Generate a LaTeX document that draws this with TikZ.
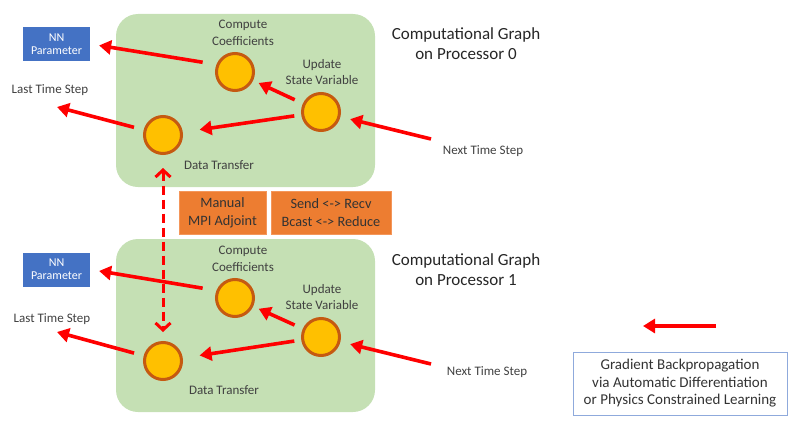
\documentclass[tikz,border=0pt]{standalone}
\usepackage{fontspec}
\setmainfont{Carlito}
\usetikzlibrary{positioning,arrows.meta}
\definecolor{panelfill}{RGB}{197,224,180}
\definecolor{statefill}{RGB}{255,192,0}
\definecolor{stateline}{RGB}{197,90,17}
\definecolor{nnfill}{RGB}{68,114,196}
\definecolor{opfill}{RGB}{237,125,49}
\definecolor{opline}{RGB}{244,150,90}
\definecolor{legline}{RGB}{143,170,220}
\definecolor{labtext}{RGB}{64,64,64}
\definecolor{arred}{RGB}{255,0,0}

\begin{document}
\begin{tikzpicture}[x=1pt,y=-1pt,
   panel/.style={fill=panelfill,rounded corners=22pt,minimum width=259pt,minimum height=173pt},
   stt/.style={circle,fill=statefill,draw=stateline,line width=3pt,minimum size=37pt,inner sep=0pt},
   lab/.style={font=\fontsize{13}{16.5}\selectfont,text=labtext,align=center},
   nnbox/.style={fill=nnfill,text=white,font=\fontsize{12}{13}\selectfont,align=center,
                 minimum width=67pt,minimum height=34pt,inner sep=0pt},
   opbox/.style={fill=opfill,draw=opline,line width=0.6pt,text=black!80,
                 font=\fontsize{14.3}{18}\selectfont,align=center,minimum height=43pt,inner sep=2pt},
   ttl/.style={font=\fontsize{17}{20}\selectfont,text=black!85,align=center},
   ar/.style={draw=arred,line width=3.6pt,-{Triangle[length=12pt,width=14pt]}},
   dar/.style={draw=arred,line width=3pt,dash pattern=on 9pt off 5pt,
               {Straight Barb[length=7pt,width=15pt]}-{Straight Barb[length=7pt,width=15pt]}}]
\useasboundingbox (0,0) rectangle (799,436);

% processor 0
\node[panel] (g0) at (245.5,100.5) {};
\node[stt] (cc0) at (235,72) {};
\node[stt] (up0) at (321,112) {};
\node[stt] (dt0) at (163,135) {};
\node[lab] at (243,33) {Compute\\Coefficients};
\node[lab] at (322,72) {Update\\State Variable};
\node[lab] at (219,165) {Data Transfer};
\node[nnbox] (nn0) at (56.5,44) {NN\\Parameter};
\node[lab] (last0) at (50,90) {Last Time Step};
\node[lab] (next0) at (483,151) {Next Time Step};
\node[ttl] (t0) at (466,44) {Computational Graph\\on Processor 0};
\coordinate (lt0) at (57,107);
\coordinate (ns0) at (431,139);

\draw[ar,shorten <=14pt,shorten >=9pt] (cc0.158) -- (nn0.east);
\draw[ar,shorten <=9pt,shorten >=6pt] (up0) -- (cc0);
\draw[ar,shorten <=7pt,shorten >=17pt] (up0) -- (dt0);
\draw[ar,shorten <=10pt] (dt0) -- (lt0);
\draw[ar,shorten >=10pt] (ns0) -- (up0);

% processor 1
\node[panel] (g1) at (245.5,325.5) {};
\node[stt] (cc1) at (235,298) {};
\node[stt] (up1) at (321,337) {};
\node[stt] (dt1) at (163,361) {};
\node[lab] at (243,259) {Compute\\Coefficients};
\node[lab] at (322,297) {Update\\State Variable};
\node[lab] at (224,390) {Data Transfer};
\node[nnbox] (nn1) at (56.5,269.5) {NN\\Parameter};
\node[lab] (last1) at (52,319) {Last Time Step};
\node[lab] (next1) at (487,372) {Next Time Step};
\node[ttl] (t1) at (466,270) {Computational Graph\\on Processor 1};
\coordinate (lt1) at (57,332);
\coordinate (ns1) at (431,364);

\draw[ar,shorten <=14pt,shorten >=9pt] (cc1.158) -- (nn1.east);
\draw[ar,shorten <=9pt,shorten >=6pt] (up1) -- (cc1);
\draw[ar,shorten <=7pt,shorten >=17pt] (up1) -- (dt1);
\draw[ar,shorten <=10pt] (dt1) -- (lt1);
\draw[ar,shorten >=10pt] (ns1) -- (up1);

% MPI adjoint
\node[opbox,minimum width=87pt] (mpi) at (222.5,212.5) {Manual\\MPI Adjoint};
\node[opbox,minimum width=120pt] (swap) at (331,212.5) {Send <-> Recv\\Bcast <-> Reduce};
\draw[dar,shorten <=13pt,shorten >=9pt] (dt0) -- (dt1);

% legend
\coordinate (legA) at (716,326);
\coordinate (legB) at (643,326);
\draw[ar] (legA) -- (legB);
\node[draw=legline,line width=0.8pt,minimum width=214pt,minimum height=63pt,align=center,
      font=\fontsize{15}{17.5}\selectfont,text=black!80] (leg) at (680,383.5)
   {Gradient Backpropagation\\via Automatic Differentiation\\or Physics Constrained Learning};
\end{tikzpicture}
\end{document}
